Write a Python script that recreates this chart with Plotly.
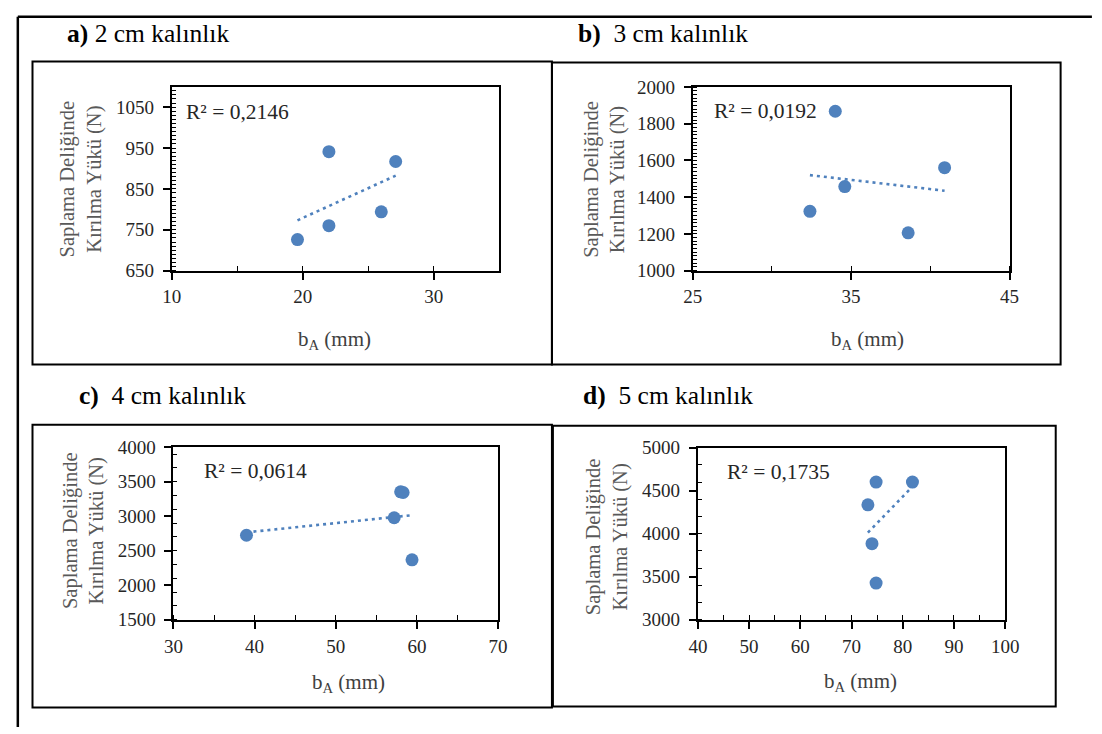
import numpy as np
import plotly.graph_objects as go

W, H = 1102, 734

# ---------------- data ----------------
panel_titles = ["<b>a)</b> 2 cm kalınlık",
                "<b>b)</b>\u00a0 3 cm kalınlık",
                "<b>c)</b>\u00a0 4 cm kalınlık",
                "<b>d)</b>\u00a0 5 cm kalınlık"]
r2_labels = ["R² = 0,2146", "R² = 0,0192", "R² = 0,0614", "R² = 0,1735"]

a_x = [19.6, 22.0, 22.0, 26.0, 27.1]
a_y = [726, 941, 760, 794, 917]
b_x = [32.4, 34.0, 34.6, 38.6, 40.9]
b_y = [1323, 1868, 1458, 1206, 1561]
c_x = [39.0, 57.2, 58.0, 58.3, 59.4]
c_y = [2724, 2977, 3353, 3343, 2368]
d_x = [73.2, 74.0, 74.8, 74.8, 81.9]
d_y = [4337, 3885, 4601, 3426, 4601]

x_title = "b<sub>A</sub> (mm)"
y_title = "Saplama Deliğinde<br>Kırılma Yükü (N)"

# axis settings: range, major, tick0, minor
x_axes = [([10, 35], 10, 10, 5), ([25, 45], 10, 25, 5),
          ([30, 70], 10, 30, 5), ([40, 100], 10, 40, 5)]
y_axes = [([650, 1100], 100, 650, 10), ([1000, 2000], 200, 1000, 20),
          ([1500, 4000], 500, 1500, 200), ([3000, 5000], 500, 3000, 200)]

# ---------------- layout in pixels (of a 1102x734 page) ----------------
plot_boxes = [(165.4, 79.0, 500.0, 268.3), (697.9, 79.3, 1021.8, 268.3),
              (167.1, 450.0, 498.9, 627.7), (703.2, 450.7, 1017.3, 627.7)]
frames = [(23, 53, 554, 365), (554, 54, 1074, 365),
          (23, 427, 554, 718), (555, 428, 1069, 717)]
title_pos = [(56, 24), (579, 24), (69, 397), (584, 397)]
r2_pos = [(233, 105), (772, 104), (251, 475), (786, 476)]
xt_pos = [(332, 340), (877, 340), (346, 693), (869, 692)]
yt_pos = [(73, 174), (608, 174), (75, 536), (611, 542)]

BLUE = "#4F81BD"
SERIF = "Liberation Serif, Times New Roman, serif"


def px(x):
    return x / W


def py(y):
    return 1 - y / H


xs_all = [a_x, b_x, c_x, d_x]
ys_all = [a_y, b_y, c_y, d_y]

fig = go.Figure()
layout = dict(autosize=True,
              margin=dict(l=0, r=0, t=0, b=0, pad=0),
              paper_bgcolor="white", plot_bgcolor="white",
              showlegend=False, shapes=[], annotations=[])

for i in range(4):
    n = i + 1
    xs, ys = xs_all[i], ys_all[i]
    slope, intercept = np.polyfit(xs, ys, 1)
    xt = [min(xs), max(xs)]
    fig.add_trace(go.Scatter(
        x=xt, y=[slope * v + intercept for v in xt], mode="lines",
        line=dict(color=BLUE, width=2.6, dash="3px,4px"),
        xaxis=f"x{n}", yaxis=f"y{n}", hoverinfo="skip"))
    fig.add_trace(go.Scatter(
        x=xs, y=ys, mode="markers",
        marker=dict(size=13, color=BLUE, line=dict(width=0)),
        xaxis=f"x{n}", yaxis=f"y{n}"))

    x0, y0, x1, y1 = plot_boxes[i]
    xr, xd, xt0, xm = x_axes[i]
    yr, yd, yt0, ym = y_axes[i]
    common = dict(showline=True, linewidth=2, linecolor="black", mirror=True,
                  showgrid=False, zeroline=False, ticks="outside", ticklen=7,
                  tickwidth=1.5, tickcolor="black",
                  tickfont=dict(family=SERIF, size=19, color="#262626"))
    layout[f"xaxis{n}"] = dict(
        domain=[px(x0), px(x1)], range=xr, dtick=xd, tick0=xt0,
        anchor=f"y{n}", ticklabelstandoff=1,
        minor=dict(dtick=xm, tick0=xt0, ticks="inside", ticklen=5,
                   tickwidth=1, tickcolor="black", showgrid=False),
        **common)
    layout[f"yaxis{n}"] = dict(
        domain=[py(y1), py(y0)], range=yr, dtick=yd, tick0=yt0,
        anchor=f"x{n}", ticklabelstandoff=5,
        minor=dict(dtick=ym, tick0=yt0, ticks="inside", ticklen=4,
                   tickwidth=1, tickcolor="black", showgrid=False),
        **common)

    fx0, fy0, fx1, fy1 = frames[i]
    layout["shapes"].append(dict(type="rect", xref="paper", yref="paper",
                                 x0=px(fx0), x1=px(fx1), y0=py(fy1), y1=py(fy0),
                                 line=dict(color="black", width=2)))

    tx, ty = title_pos[i]
    layout["annotations"].append(dict(
        text=panel_titles[i], xref="paper", yref="paper", x=px(tx), y=py(ty),
        xanchor="left", yanchor="middle", showarrow=False,
        font=dict(family=SERIF, size=25.5, color="black")))
    rx, ry = r2_pos[i]
    layout["annotations"].append(dict(
        text=r2_labels[i], xref="paper", yref="paper", x=px(rx), y=py(ry),
        xanchor="center", yanchor="middle", showarrow=False,
        font=dict(family=SERIF, size=21.5, color="#262626")))
    ax_, ay_ = xt_pos[i]
    layout["annotations"].append(dict(
        text=x_title, xref="paper", yref="paper", x=px(ax_), y=py(ay_),
        xanchor="center", yanchor="middle", showarrow=False,
        font=dict(family=SERIF, size=21, color="#404040")))
    gx, gy = yt_pos[i]
    layout["annotations"].append(dict(
        text=y_title, xref="paper", yref="paper", x=px(gx), y=py(gy),
        xanchor="center", yanchor="middle", showarrow=False, textangle=-90,
        font=dict(family=SERIF, size=20.5, color="#595959")))

# outer border (top and left)
layout["shapes"].append(dict(type="line", xref="paper", yref="paper",
                             x0=px(8), x1=px(W + 4), y0=py(7), y1=py(7),
                             line=dict(color="black", width=2.5)))
layout["shapes"].append(dict(type="line", xref="paper", yref="paper",
                             x0=px(8), x1=px(8), y0=py(7), y1=py(H + 4),
                             line=dict(color="black", width=2.5)))

fig.update_layout(**layout)
fig.write_html(
    "out.html",
    default_width="100vw", default_height="100vh",
    config={"responsive": True, "displayModeBar": False},
    post_script=("document.documentElement.style.margin='0';"
                 "document.documentElement.style.overflow='hidden';"
                 "document.body.style.margin='0';"
                 "document.body.style.padding='0';"
                 "document.body.style.overflow='hidden';"
                 "Plotly.Plots.resize(document.getElementById('{plot_id}'));"))
